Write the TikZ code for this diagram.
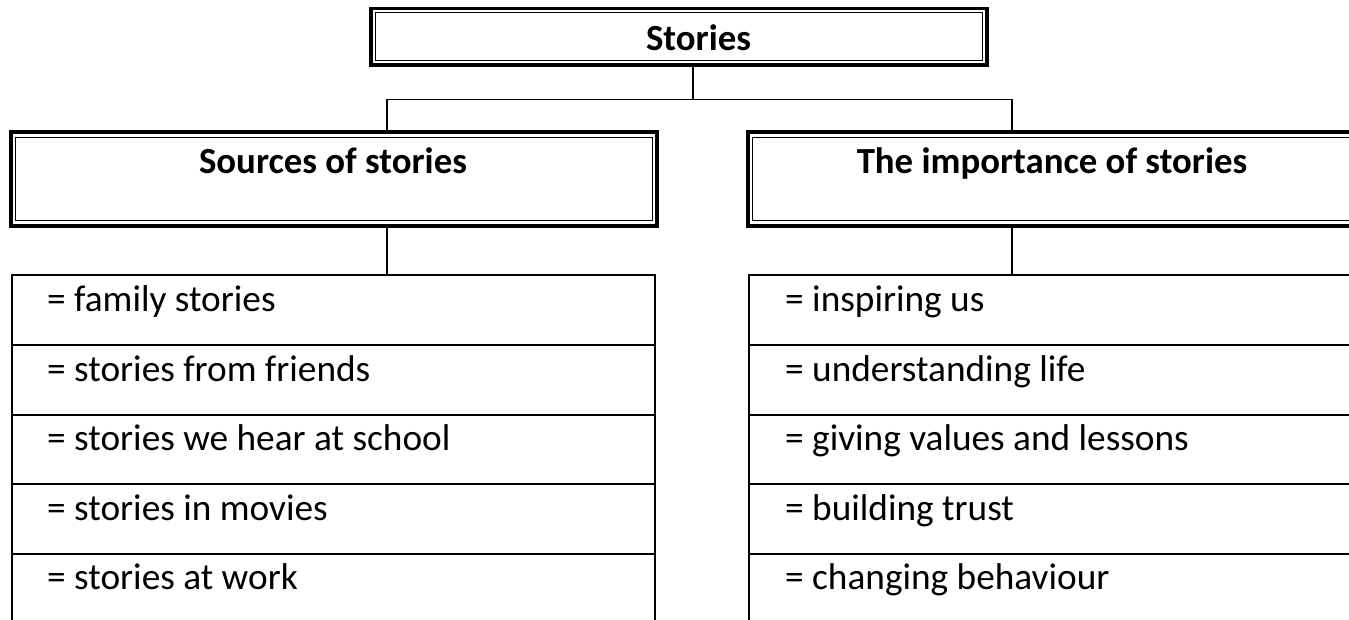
\documentclass[tikz,border=0pt]{standalone}
\usepackage{fontspec}
\setmainfont{Carlito}
\begin{document}
\begin{tikzpicture}[x=1pt,y=-1pt,
  hdr/.style={draw,line width=3.8pt,inner sep=0pt,outer sep=0pt,anchor=north west},
  inner/.style={line width=1.6pt},
  rowbox/.style={draw,line width=2pt,inner sep=0pt,outer sep=0pt,minimum width=643pt,minimum height=69.6pt,anchor=north west},
  txt/.style={font=\fontsize{37.3}{40}\selectfont,anchor=base west,inner sep=0pt},
  btxt/.style={font=\fontsize{36.8}{40}\selectfont\bfseries,anchor=base,inner sep=0pt},
  conn/.style={line width=1.9pt}]
\useasboundingbox (0,0) rectangle (1349,620);
\clip (0,0) rectangle (1349,620);

% top box
\node[hdr,minimum width=616pt,minimum height=56.5pt] (T) at (371,8.5) {};
\draw[inner] ([xshift=4.5pt,yshift=-4.2pt]T.north west) rectangle ([xshift=-4.5pt,yshift=4.5pt]T.south east);
\node[btxt] (Tt) at (698.5,50.7) {Stories};

% header boxes
\node[hdr,minimum width=646pt,minimum height=94pt] (S) at (11,132) {};
\draw[inner] ([xshift=4.5pt,yshift=-5.5pt]S.north west) rectangle ([xshift=-4.5pt,yshift=5.5pt]S.south east);
\node[btxt] (St) at (333,174) {Sources of stories};

\node[hdr,minimum width=646pt,minimum height=94pt] (I) at (748,132) {};
\draw[inner] ([xshift=4.5pt,yshift=-5.5pt]I.north west) rectangle ([xshift=-4.5pt,yshift=5.5pt]I.south east);
\node[btxt] (It) at (1052,174) {The importance of stories};

% list rows
\foreach \i/\t in {1/= family stories,2/= stories from friends,3/= stories we hear at school,4/= stories in movies,5/= stories at work}{
  \node[rowbox] (L\i) at (12,{275.5+(\i-1)*69.6}) {};
  \node[txt] (Lt\i) at (47,{311.5+(\i-1)*69.6}) {\t};
}
\foreach \i/\t in {1/= inspiring us,2/= understanding life,3/= giving values and lessons,4/= building trust,5/= changing behaviour}{
  \node[rowbox] (R\i) at (749,{275.5+(\i-1)*69.6}) {};
  \node[txt] (Rt\i) at (785,{311.5+(\i-1)*69.6}) {\t};
}

% connectors
\coordinate (jt) at (693,99.5);
\coordinate (jl) at (387,99.5);
\coordinate (jr) at (1012,99.5);
\draw[conn] (jt |- T.south) -- (jt);
\draw[conn] (jl |- S.north) -- (jl) -- (jr) -- (jr |- I.north);
\draw[conn] (jl |- S.south) -- (jl |- L1.north);
\draw[conn] (jr |- I.south) -- (jr |- R1.north);
\end{tikzpicture}
\end{document}
